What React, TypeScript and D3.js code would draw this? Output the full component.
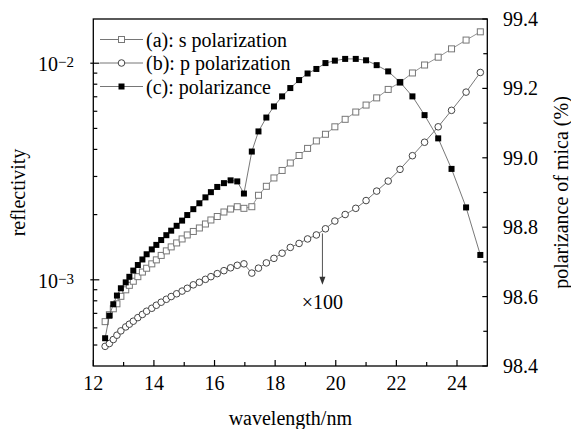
import React from 'react';
import * as d3 from 'd3';

// wavelength (nm), shared by the three curves
const wavelength = [
  12.39, 12.53, 12.66, 12.78, 12.91, 13.07, 13.19, 13.32, 13.47, 13.62,
  13.76, 13.93, 14.08, 14.24, 14.41, 14.57, 14.75, 14.93, 15.10, 15.30,
  15.50, 15.70, 15.88, 16.09, 16.31, 16.53, 16.75, 16.97, 17.23, 17.45,
  17.71, 17.96, 18.23, 18.50, 18.79, 19.07, 19.36, 19.66, 19.97, 20.31,
  20.66, 21.00, 21.35, 21.73, 22.12, 22.53, 22.93, 23.38, 23.82, 24.30,
  24.77,
];

// (a) s polarization reflectivity
const sPolarization = [
  6.41e-4, 6.90e-4, 7.35e-4, 7.75e-4, 8.39e-4, 8.99e-4, 9.43e-4, 9.85e-4, 1.034e-3, 1.086e-3,
  1.131e-3, 1.185e-3, 1.236e-3, 1.296e-3, 1.360e-3, 1.419e-3, 1.480e-3, 1.544e-3, 1.611e-3, 1.672e-3,
  1.735e-3, 1.810e-3, 1.889e-3, 1.960e-3, 2.056e-3, 2.122e-3, 2.175e-3, 2.138e-3, 2.175e-3, 2.456e-3,
  2.702e-3, 2.953e-3, 3.198e-3, 3.462e-3, 3.749e-3, 4.043e-3, 4.377e-3, 4.698e-3, 5.086e-3, 5.508e-3,
  5.951e-3, 6.409e-3, 6.918e-3, 7.568e-3, 8.152e-3, 9.015e-3, 9.811e-3, 1.066e-2, 1.165e-2, 1.279e-2,
  1.396e-2,
];

// (b) p polarization reflectivity, plotted x100
const pPolarization = [
  4.93e-4, 5.08e-4, 5.30e-4, 5.55e-4, 5.81e-4, 6.06e-4, 6.24e-4, 6.44e-4, 6.69e-4, 6.92e-4,
  7.16e-4, 7.39e-4, 7.63e-4, 7.88e-4, 8.13e-4, 8.37e-4, 8.62e-4, 8.87e-4, 9.14e-4, 9.48e-4,
  9.74e-4, 1.005e-3, 1.034e-3, 1.068e-3, 1.102e-3, 1.136e-3, 1.167e-3, 1.185e-3, 1.074e-3, 1.132e-3,
  1.197e-3, 1.256e-3, 1.327e-3, 1.411e-3, 1.472e-3, 1.544e-3, 1.611e-3, 1.720e-3, 1.868e-3, 2.002e-3,
  2.138e-3, 2.322e-3, 2.568e-3, 2.856e-3, 3.236e-3, 3.741e-3, 4.316e-3, 5.086e-3, 6.059e-3, 7.354e-3,
  9.063e-3,
];

// (c) polarizance of mica (%), right axis
const polarizance = [
  98.480, 98.545, 98.578, 98.603, 98.624, 98.641, 98.657, 98.675, 98.691, 98.707,
  98.722, 98.736, 98.749, 98.763, 98.777, 98.790, 98.804, 98.819, 98.835, 98.852,
  98.869, 98.886, 98.901, 98.916, 98.927, 98.935, 98.932, 98.897, 99.018, 99.076,
  99.116, 99.148, 99.177, 99.201, 99.224, 99.243, 99.256, 99.273, 99.280, 99.285,
  99.285, 99.281, 99.267, 99.249, 99.218, 99.177, 99.123, 99.056, 98.968, 98.857,
  98.720,
];

const xTicks = [12, 14, 16, 18, 20, 22, 24];
const xMinorTicks = [13, 15, 17, 19, 21, 23];
const leftMajor = [1e-3, 1e-2];
const leftMinor = [5e-4, 6e-4, 7e-4, 8e-4, 9e-4, 2e-3, 3e-3, 4e-3, 5e-3, 6e-3, 7e-3, 8e-3, 9e-3];
const rightTicks = [98.4, 98.6, 98.8, 99.0, 99.2, 99.4];
const rightMinor = [98.5, 98.7, 98.9, 99.1, 99.3];
const legendLabels = ['(a): s polarization', '(b): p polarization', '(c): polarizance'];

const W = 571;
const H = 429;
const L = 93.3, R = 487.3, T = 19, B = 366;
const FONT = '"Liberation Serif", "Times New Roman", serif';

export default function App() {
  const x = d3.scaleLinear().domain([12, 25]).range([L, R]);
  const yL = d3.scaleLog().domain([4e-4, 1.6e-2]).range([B, T]);
  const yR = d3.scaleLinear().domain([98.4, 99.4]).range([B, T]);

  const lineL = d3.line<[number, number]>().x(d => x(d[0])).y(d => yL(d[1]));
  const lineR = d3.line<[number, number]>().x(d => x(d[0])).y(d => yR(d[1]));

  const sPts = wavelength.map((w, i) => [w, sPolarization[i]] as [number, number]);
  const pPts = wavelength.map((w, i) => [w, pPolarization[i]] as [number, number]);
  const cPts = wavelength.map((w, i) => [w, polarizance[i]] as [number, number]);

  const sq = 6;
  const arrowX = x(19.56);
  const arrowY0 = yL(1.69e-3) + 3;
  const arrowY1 = yL(9.5e-4);

  const fmtR = d3.format('.1f');

  return (
    <svg width={W} height={H} style={{ position: 'absolute', left: 0, top: 0, background: '#fff' }}
      fontFamily={FONT}>
      <rect x={0} y={0} width={W} height={H} fill="#fff" />

      {/* series a */}
      <path d={lineL(sPts) || ''} fill="none" stroke="#777" strokeWidth={0.8} />
      {sPts.map((d, i) => (
        <rect key={'s' + i} x={x(d[0]) - sq / 2} y={yL(d[1]) - sq / 2} width={sq} height={sq}
          fill="#fff" stroke="#777" strokeWidth={1} />
      ))}

      {/* series b */}
      <path d={lineL(pPts) || ''} fill="none" stroke="#555" strokeWidth={0.8} />
      {pPts.map((d, i) => (
        <circle key={'p' + i} cx={x(d[0])} cy={yL(d[1])} r={3.3} fill="#fff" stroke="#444" strokeWidth={1} />
      ))}

      {/* series c */}
      <path d={lineR(cPts) || ''} fill="none" stroke="#555" strokeWidth={0.8} />
      {cPts.map((d, i) => (
        <rect key={'c' + i} x={x(d[0]) - sq / 2} y={yR(d[1]) - sq / 2} width={sq} height={sq} fill="#000" />
      ))}

      {/* x100 annotation */}
      <line x1={arrowX} x2={arrowX} y1={arrowY0} y2={arrowY1 - 6} stroke="#555" strokeWidth={1} />
      <path d={`M${arrowX - 3},${arrowY1 - 8} L${arrowX + 3},${arrowY1 - 8} L${arrowX},${arrowY1} Z`} fill="#333" />
      <text x={arrowX} y={arrowY1 + 24} fontSize={20} textAnchor="middle">×100</text>

      {/* frame */}
      <rect x={L} y={T} width={R - L} height={B - T} fill="none" stroke="#000" strokeWidth={1.3} />

      {/* bottom axis */}
      {xTicks.map(t => (
        <g key={'xt' + t}>
          <line x1={x(t)} x2={x(t)} y1={B} y2={B - 6} stroke="#000" strokeWidth={1.2} />
          <text x={x(t)} y={B + 24} fontSize={20} textAnchor="middle">{t}</text>
        </g>
      ))}
      {xMinorTicks.map(t => (
        <line key={'xm' + t} x1={x(t)} x2={x(t)} y1={B} y2={B - 4} stroke="#000" strokeWidth={1.2} />
      ))}
      <text x={(L + R) / 2} y={425} fontSize={20} textAnchor="middle">wavelength/nm</text>

      {/* left axis */}
      {leftMajor.map(t => (
        <g key={'yl' + t}>
          <line x1={L - 3} x2={L + 6} y1={yL(t)} y2={yL(t)} stroke="#000" strokeWidth={1.2} />
          <text x={38} y={yL(t) + 8} fontSize={20}>
            10<tspan fontSize={15} dy={-4}>−{Math.round(-Math.log10(t))}</tspan>
          </text>
        </g>
      ))}
      {leftMinor.map(t => (
        <line key={'ylm' + t} x1={L} x2={L + 4} y1={yL(t)} y2={yL(t)} stroke="#000" strokeWidth={1.2} />
      ))}
      <text transform={`translate(18,${(T + B) / 2}) rotate(-90)`} fontSize={20} textAnchor="middle"
        dominantBaseline="central">reflectivity</text>

      {/* right axis */}
      {rightTicks.map(t => (
        <g key={'yr' + t}>
          <line x1={R} x2={R - 5} y1={yR(t)} y2={yR(t)} stroke="#000" strokeWidth={1.2} />
          <text x={503} y={yR(t) + 7} fontSize={20}>{fmtR(t)}</text>
        </g>
      ))}
      {rightMinor.map(t => (
        <line key={'yrm' + t} x1={R} x2={R - 4} y1={yR(t)} y2={yR(t)} stroke="#000" strokeWidth={1.2} />
      ))}
      <text transform={`translate(561,${(T + B) / 2}) rotate(-90)`} fontSize={20} textAnchor="middle"
        dominantBaseline="central">polarizance of mica (%)</text>

      {/* legend */}
      {legendLabels.map((lab, i) => {
        const ly = 39.5 + i * 23.5;
        const mx = 121.5;
        return (
          <g key={'lg' + i}>
            <line x1={100} x2={143} y1={ly} y2={ly} stroke="#666" strokeWidth={0.9} />
            {i === 0 && <rect x={mx - 3} y={ly - 3} width={6} height={6} fill="#fff" stroke="#777" />}
            {i === 1 && <circle cx={mx} cy={ly} r={3.3} fill="#fff" stroke="#444" />}
            {i === 2 && <rect x={mx - 3} y={ly - 3} width={6} height={6} fill="#000" />}
            <text x={146} y={ly + 7} fontSize={20}>{lab}</text>
          </g>
        );
      })}
    </svg>
  );
}
